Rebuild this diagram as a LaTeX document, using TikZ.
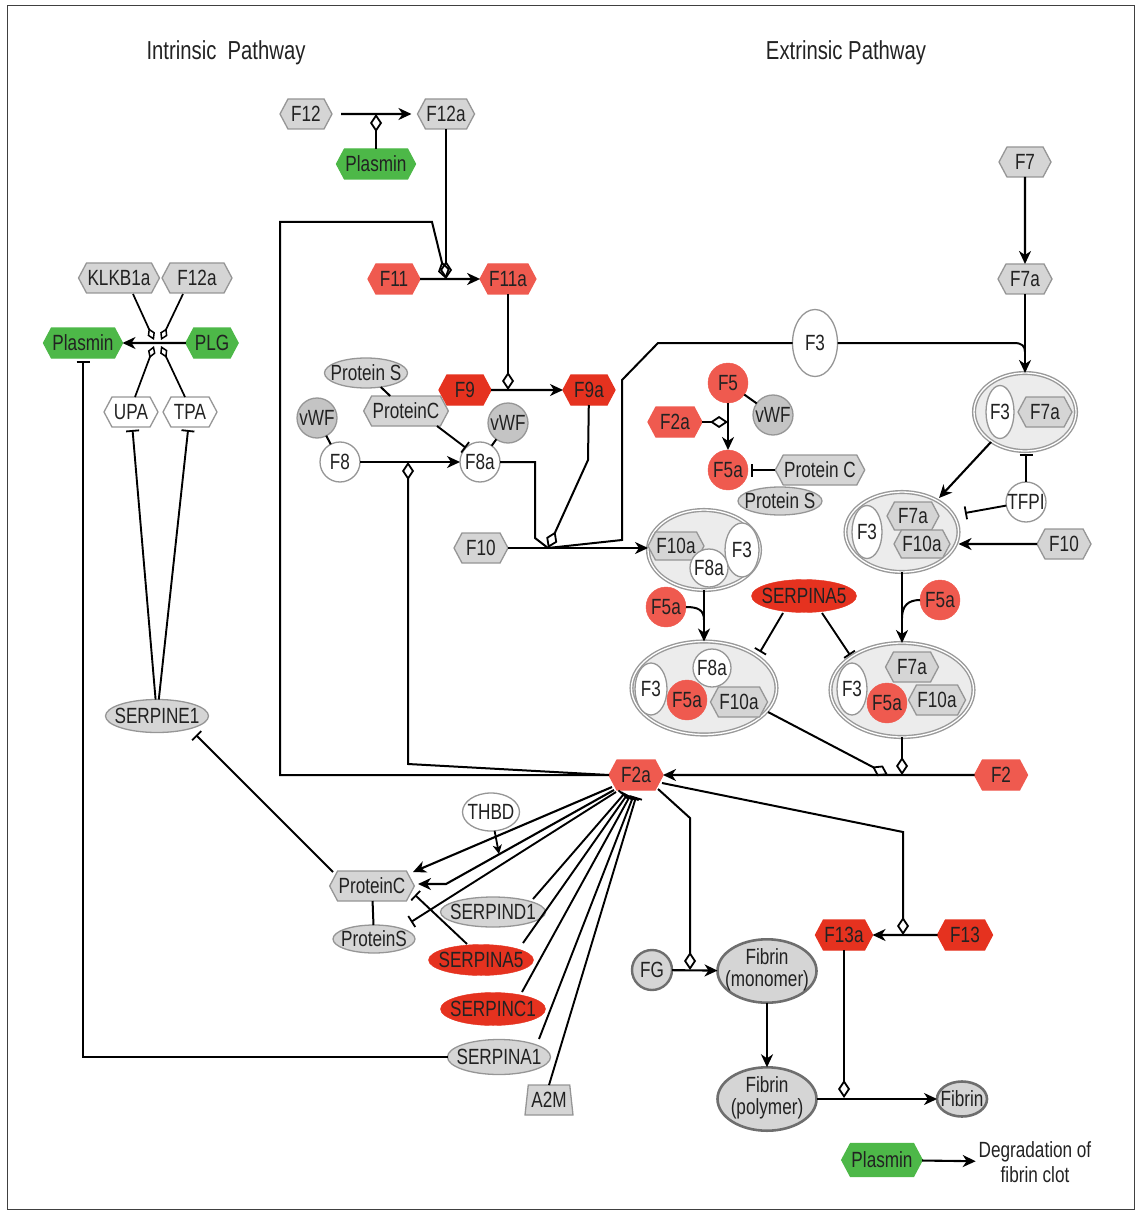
\documentclass[tikz,border=0pt]{standalone}
\usepackage{fontspec}
\newfontfamily\nf[FakeStretch=0.78]{Liberation Sans}
\usetikzlibrary{shapes.geometric,shapes.symbols,arrows.meta,calc}
\definecolor{gfill}{HTML}{D5D5D5}
\definecolor{gbord}{HTML}{969696}
\definecolor{gdark}{HTML}{C4C4C4}
\definecolor{rlight}{HTML}{EF5A4F}
\definecolor{rdark}{HTML}{E5321F}
\definecolor{grn}{HTML}{4DB848}
\definecolor{cxfill}{HTML}{ECECEC}
\definecolor{cxbord}{HTML}{999999}
\definecolor{fbord}{HTML}{6E6E6E}
\definecolor{txt}{HTML}{222222}
\newcommand\zb[1]{\makebox[0pt][c]{#1}}
\newcommand\two[2]{\makebox[0pt][c]{\renewcommand\arraystretch{0.9}\begin{tabular}{@{}c@{}}#1\\#2\end{tabular}}}
\begin{document}
\begin{tikzpicture}[x=1pt,y=-1pt,
 every node/.style={font=\nf\fontsize{22}{24}\selectfont, text=txt, inner sep=0pt, outer sep=0pt},
 hexg/.style={signal, signal to=east and west, signal pointer angle=124, draw=gbord, fill=gfill, line width=1.3pt, minimum height=30pt, minimum width=52pt, inner xsep=1pt},
 hexr/.style={hexg, draw=rlight, fill=rlight},
 hexR/.style={hexg, draw=rdark, fill=rdark},
 hexgr/.style={hexg, draw=grn, fill=grn},
 hexw/.style={hexg, fill=white},
 elg/.style={ellipse, draw=gbord, fill=gfill, line width=1.3pt},
 elw/.style={ellipse, draw=gbord, fill=white, line width=1.3pt},
 elR/.style={ellipse, draw=rdark, fill=rdark},
 cw/.style={circle, draw=gbord, fill=white, line width=1.3pt, minimum size=40pt},
 cr/.style={circle, draw=rlight, fill=rlight, minimum size=40pt},
 cg/.style={circle, draw=gbord, fill=gdark, line width=1.3pt, minimum size=40pt},
 fib/.style={ellipse, draw=fbord, fill=gfill, line width=2.6pt},
 cplx/.style={ellipse, draw=cxbord, fill=cxfill, line width=1.4pt, double=white, double distance=1.3pt},
 cA/.style={line width=2.1pt, -{Stealth[length=13pt,width=12pt,inset=4pt]}},
 cAs/.style={line width=1.8pt, -{Stealth[length=9pt,width=9pt,inset=2.5pt]}},
 cI/.style={line width=1.9pt, -{Bar[width=13pt,line width=1.8pt]}},
 cM/.style={line width=2pt, -{Diamond[open,length=18pt,width=12pt,line width=1.8pt]}},
 cMs/.style={line width=1.7pt, -{Diamond[open,length=13pt,width=8pt,line width=1.5pt]}},
 cL/.style={line width=2pt},
 ttl/.style={font=\nf\fontsize{26}{28}\selectfont}
]
\useasboundingbox (0,0) rectangle (1141,1214);
\draw[line width=1pt, black!75] (7,6) rectangle (1134,1209);

% titles
\node[ttl] (tIn) at (226,53) {Intrinsic\ \ Pathway};
\node[ttl] (tEx) at (846,53) {Extrinsic Pathway};

% ---- intrinsic top
\node[hexg] (F12) at (306,114) {F12};
\node[hexg, minimum width=54pt] (F12a) at (446,114) {F12a};
\node[hexgr, minimum width=72pt] (PlasminTop) at (376,164) {Plasmin};
\node[hexr] (F11) at (394,279) {F11};
\node[hexr, minimum width=54pt] (F11a) at (508,279) {F11a};
\node[hexR] (F9) at (465,390) {F9};
\node[hexR] (F9a) at (589,390) {F9a};
\node[elg, minimum width=83pt, minimum height=30pt] (ProtS1) at (366,373) {\zb{Protein S}};
\node[hexg, minimum width=78pt] (ProtC1) at (406,411) {ProteinC};
\node[cg] (vWF1) at (317,418) {\zb{vWF}};
\node[cw] (F8) at (340,462) {\zb{F8}};
\node[cw] (F8a) at (480,462) {\zb{F8a}};
\node[cg] (vWF2) at (508,423) {\zb{vWF}};
\node[hexg, minimum width=54pt] (F10) at (481,548) {F10};

% ---- left
\node[hexg, minimum width=78pt] (KLKB1a) at (119,278) {KLKB1a};
\node[hexg, minimum width=70pt] (F12aL) at (197,278) {F12a};
\node[hexgr, minimum width=70pt] (PlasminL) at (83,343) {Plasmin};
\node[hexgr] (PLG) at (212,343) {PLG};
\node[hexw, minimum width=54pt] (UPA) at (131,412) {UPA};
\node[hexw, minimum width=54pt] (TPA) at (190,412) {TPA};
\node[elg, minimum width=103pt, minimum height=33pt] (SERPINE1) at (157,716) {\zb{SERPINE1}};

% ---- extrinsic
\node[elw, minimum width=45pt, minimum height=67pt] (F3top) at (815,343) {\zb{F3}};
\node[hexg] (F7) at (1025,162) {F7};
\node[hexg, minimum width=54pt] (F7a) at (1025,279) {F7a};
\node[cplx, minimum width=102pt, minimum height=78pt] (cx1) at (1025,412) {};
\node[elw, minimum width=28pt, minimum height=53pt] (cx1f3) at (1000,412) {\zb{F3}};
\node[hexg, minimum width=54pt] (cx1f7a) at (1045,412) {F7a};
\node[cw] (TFPI) at (1026,502) {\zb{TFPI}};
\node[cplx, minimum width=113pt, minimum height=80pt] (cx2) at (902,532) {};
\node[elw, minimum width=30pt, minimum height=53pt] (cx2f3) at (867,532) {\zb{F3}};
\node[hexg, minimum height=28pt] (cx2f7a) at (913,516) {F7a};
\node[hexg, minimum height=28pt] (cx2f10a) at (922,544) {F10a};
\node[hexg, minimum width=54pt] (F10R) at (1064,544) {F10};

% ---- F5 group
\node[cr] (F5) at (728,383) {\zb{F5}};
\node[cg] (vWF3) at (773,415) {\zb{vWF}};
\node[hexr, minimum width=54pt] (F2aS) at (675,422) {F2a};
\node[cr] (F5aTop) at (728,470) {\zb{F5a}};
\node[hexg, minimum width=84pt] (ProtC2) at (820,470) {Protein C};
\node[elg, minimum width=84pt, minimum height=28pt] (ProtS2) at (780,501) {\zb{Protein S}};

% ---- complex 3
\node[cplx, minimum width=112pt, minimum height=80pt] (cx3) at (704,550) {};
\node[hexg, minimum width=54pt, minimum height=28pt] (cx3f10a) at (676,546) {F10a};
\node[elw, minimum width=34pt, minimum height=54pt] (cx3f3) at (742,550) {\zb{F3}};
\node[cw, minimum size=38pt] (cx3f8a) at (709,568) {\zb{F8a}};

\node[cr] (F5aL) at (666,607) {\zb{F5a}};
\node[cr] (F5aR) at (940,600) {\zb{F5a}};
\node[elR, minimum width=105pt, minimum height=33pt] (SA5t) at (804,596) {\zb{SERPINA5}};

% ---- complex 4
\node[cplx, minimum width=145pt, minimum height=93pt] (cx4) at (704,688) {};
\node[elw, minimum width=32pt, minimum height=52pt] (cx4f3) at (651,689) {\zb{F3}};
\node[cw, minimum size=38pt] (cx4f8a) at (712,668) {\zb{F8a}};
\node[cr] (cx4f5a) at (687,700) {\zb{F5a}};
\node[hexg] (cx4f10a) at (739,702) {F10a};

% ---- complex 5
\node[cplx, minimum width=143pt, minimum height=94pt] (cx5) at (902,690) {};
\node[elw, minimum width=30pt, minimum height=52pt] (cx5f3) at (852,689) {\zb{F3}};
\node[hexg, minimum width=53pt] (cx5f7a) at (912,667) {F7a};
\node[cr] (cx5f5a) at (887,703) {\zb{F5a}};
\node[hexg] (cx5f10a) at (937,700) {F10a};

\node[hexr, minimum width=54pt] (F2a) at (636,775) {F2a};
\node[hexr, minimum width=53pt] (F2) at (1001,775) {F2};

% ---- bottom
\node[elw, minimum width=57pt, minimum height=38pt] (THBD) at (491,812) {\zb{THBD}};
\node[hexg, minimum width=83pt] (ProtC3) at (372,886) {ProteinC};
\node[elg, minimum width=82pt, minimum height=28pt] (ProtS3) at (374,939) {\zb{ProteinS}};
\node[elg, minimum width=105pt, minimum height=30pt] (SD1) at (493,912) {\zb{SERPIND1}};
\node[elR, minimum width=105pt, minimum height=31pt] (SA5b) at (481,960) {\zb{SERPINA5}};
\node[elR, minimum width=105pt, minimum height=33pt] (SC1) at (493,1009) {\zb{SERPINC1}};
\node[elg, minimum width=103pt, minimum height=35pt] (SA1) at (499,1057) {\zb{SERPINA1}};
\node[trapezium, trapezium stretches body=true, trapezium left angle=78, trapezium right angle=78, draw=gbord, fill=gfill, line width=1.3pt, minimum width=48pt, minimum height=30pt] (A2M) at (549,1100) {\zb{A2M}};

\node[hexR, minimum width=53pt] (F13a) at (844,935) {F13a};
\node[hexR, minimum width=55pt] (F13) at (965,935) {F13};
\node[circle, draw=fbord, fill=gfill, line width=2.4pt, minimum size=40pt] (FG) at (652,970) {\zb{FG}};
\node[fib, minimum width=99pt, minimum height=62pt] (FibMono) at (767,971) {\two{Fibrin}{(monomer)}};
\node[fib, minimum width=99pt, minimum height=62pt] (FibPoly) at (767,1099) {\two{Fibrin}{(polymer)}};
\node[fib, minimum width=50pt, minimum height=35pt] (Fibrin) at (962,1099) {\zb{Fibrin}};
\node[hexgr, minimum width=70pt, minimum height=33pt] (PlasminLeg) at (882,1160) {Plasmin};
\node[align=center, font=\nf\fontsize{22}{25}\selectfont] (Degr) at (1035,1162) {Degradation of\\fibrin clot};

% ================= connectors
\coordinate (r1) at (376,114);
\draw[cA, shorten <=9pt, shorten >=6pt] (F12) -- (F12a);
\draw[cM] (PlasminTop) -- (r1);

\coordinate (r2) at (446,279);
\draw[cA] (F11) -- (F11a);
\draw[cM] (F12a) -- (r2);
\draw[cM] (F2a.west) -- (280,775) -- (280,222) -- (432,222) -- (r2);

\coordinate (r3) at (508,390);
\draw[cM] (F11a) -- (r3);
\draw[cA] (F9) -- (F9a);

\draw[cL] (vWF1) -- (F8);
\draw[cL] (vWF2) -- (F8a);
\draw[cL] (ProtS1) -- (ProtC1);
\draw[cI] ($(ProtC1)+(31,15)$) -- (F8a.135);
\draw[cA] (F8) -- (F8a);
\coordinate (r4) at (408,462);
\draw[cM] (F2a.west) -- (408,764) -- (r4);

\coordinate (r5) at (548,548);
\draw[cA] (F10) -- (cx3.west |- F10);
\draw[cL] (F8a.east) -- (535,462) -- (535,538) -- (r5);
\draw[cM] (F9a) -- (588,460) -- (r5);
\draw[cL] (F3top) -- (658,343) -- (622,380) -- (622,540) -- (r5);

% extrinsic
\draw[cA] (F7) -- (F7a);
\draw[cA] (F7a) -- (cx1);
\draw[cL] (F3top) -- (1014,343) .. controls (1022,343) and (1025,346) .. (1025,352);
\draw[cA] ($(cx1)+(-34,30)$) -- ($(cx2)+(37,-34)$);
\draw[cI, shorten >=3pt] (TFPI) -- (TFPI |- cx1.south);
\draw[cI] (TFPI) -- ($(cx2)+(63,-19)$);
\draw[cA] (F10R) -- (cx2.east |- F10R);

% F5
\draw[cL] (F5) -- (vWF3);
\coordinate (r6) at (728,422);
\draw[cA] (F5) -- (F5aTop);
\draw[cM] (F2aS) -- (r6);
\draw[cI, shorten >=3pt] (ProtC2) -- (F5aTop);

% complexes
\draw[cA] (cx3) -- (cx4);
\coordinate (j1) at (704,620);
\draw[cL] (F5aL) .. controls (698,607) and (704,610) .. (j1);
\draw[cA] (cx2) -- (cx5);
\coordinate (j2) at (902,618);
\draw[cL] (F5aR) .. controls (908,600) and (902,606) .. (j2);
\draw[cI] ($(SA5t)+(-21,17)$) -- ($(cx4)+(56,-36)$);
\draw[cI] ($(SA5t)+(18,17)$) -- ($(cx5)+(-52,-35)$);
\coordinate (r7) at (888,775);
\coordinate (r8) at (902,775);
\draw[cM] ($(cx4)+(64,24)$) -- (r7);
\draw[cM] (cx5) -- (r8);
\draw[cA] (F2) -- (F2a);

% left cross
\draw[cA] (PLG) -- (PlasminL);
\coordinate (p1) at (154,340);
\coordinate (p2) at (161,340);
\coordinate (p3) at (154,346);
\coordinate (p4) at (161,346);
\draw[cMs] ($(KLKB1a)+(14,16)$) -- (p1);
\draw[cMs] ($(F12aL)+(-14,16)$) -- (p2);
\draw[cMs] ($(UPA)+(4,-15)$) -- (p3);
\draw[cMs] ($(TPA)+(-5,-15)$) -- (p4);
\draw[cI, shorten >=3pt] (SERPINE1) -- (UPA);
\draw[cI, shorten >=3pt] (SERPINE1) -- (TPA);
\draw[cI, shorten >=3pt] (SA1) -- (PlasminL |- SA1) -- (PlasminL);
\draw[cI] ($(ProtC3)+(-39,-14)$) -- ($(SERPINE1)+(39,19)$);

% bottom fan
\coordinate (r10) at (499,854);
\draw[cAs] (THBD) -- (r10);
\draw[cA] ($(F2a)+(-24,12)$) -- ($(ProtC3)+(41,-14)$);
\draw[cA] ($(F2a)+(-22,15)$) -- (446,884) -- ($(ProtC3)+(46,-2)$);
\draw[cI] ($(F2a)+(-20,17)$) -- ($(ProtS3)+(37,-17)$);
\draw[cI] ($(SA5b)+(-14,-16)$) -- ($(ProtC3)+(43,9)$);
\draw[cL] (ProtC3) -- (ProtS3);
\draw[cI] ($(SD1)+(40,-13)$) -- ($(F2a)+(-12,19)$);
\draw[cI] ($(SA5b)+(42,-17)$) -- ($(F2a)+(-9,20)$);
\draw[cI] ($(SC1)+(29,-17)$) -- ($(F2a)+(-6,21)$);
\draw[cI] ($(SA1)+(40,-18)$) -- ($(F2a)+(-3,22)$);
\draw[cI] (A2M.north) -- ($(F2a)+(0,22)$);

% fibrin
\coordinate (r11) at (690,970);
\draw[cA] (FG) -- (FibMono);
\draw[cM] ($(F2a)+(22,14)$) -- (690,818) -- (r11);
\coordinate (r12) at (903,935);
\draw[cM] ($(F2a)+(26,8)$) -- (903,832) -- (r12);
\draw[cA] (F13) -- (F13a);
\draw[cA] (FibMono) -- (FibPoly);
\coordinate (r13) at (844,1098);
\draw[cM] (F13a) -- (r13);
\draw[cA] (FibPoly) -- (Fibrin);
\draw[cA, shorten >=3pt] (PlasminLeg) -- (Degr);
\end{tikzpicture}
\end{document}
